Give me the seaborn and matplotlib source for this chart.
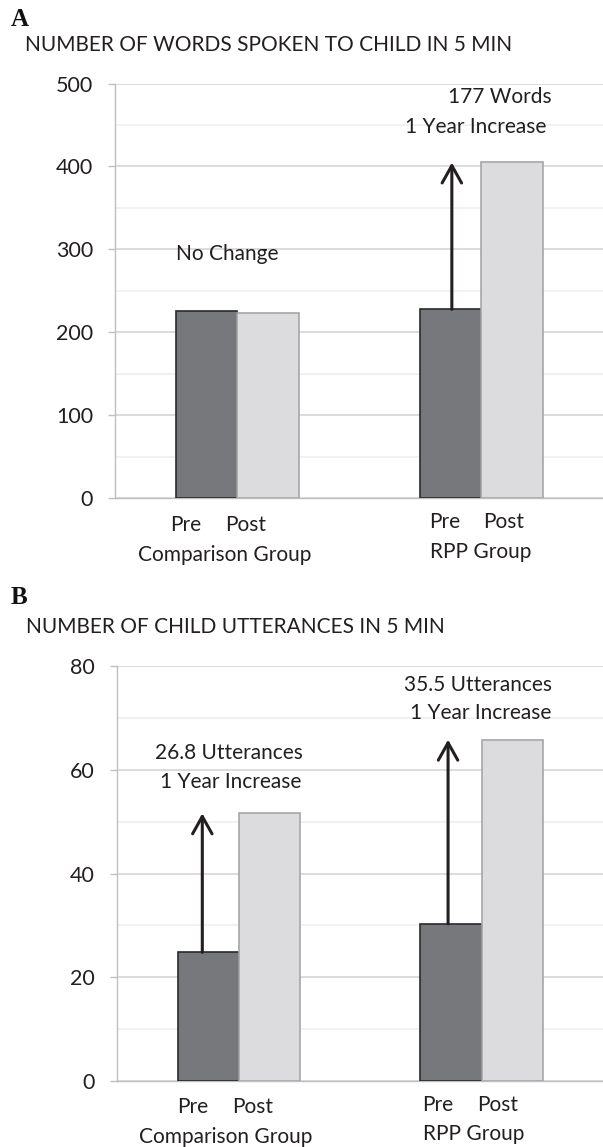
import numpy as np
import pandas as pd
import matplotlib
matplotlib.use('Agg')
import matplotlib.pyplot as plt
import seaborn as sns
from matplotlib.ticker import MultipleLocator

# ---- data ----
groups = ['Comparison Group', 'RPP Group']
phases = ['Pre', 'Post']
words_pre = [225.7, 227.7]
words_post = [223.6, 404.8]
utt_pre = [24.8, 30.3]
utt_post = [51.6, 65.8]
words_ticks = [0, 100, 200, 300, 400, 500]
utt_ticks = [0, 20, 40, 60, 80]

sns.set_theme(style='white')
plt.rcParams['font.family'] = ['Lato', 'DejaVu Sans']

W, H = 603, 1147
fig = plt.figure(figsize=(W / 100, H / 100), dpi=100)
TXT = '#231f20'
PRE_FILL, PRE_EDGE = '#77787c', '#2a2a2a'
POST_FILL, POST_EDGE = '#dcdcde', '#a6a6a6'
FS = 15


def px_axes(l, t, r, b):
    return fig.add_axes([l / W, 1 - b / H, (r - l) / W, (b - t) / H])


def ftext(x, y, s, ha='center', **kw):
    kw.setdefault('fontsize', FS)
    kw.setdefault('color', TXT)
    fig.text(x / W, 1 - y / H, s, ha=ha, va='center', **kw)


def panel(ax, pre, post, ticks, minor, arrow_groups, arrow_off):
    df = pd.DataFrame({
        'group': groups * 2,
        'phase': ['Pre'] * len(groups) + ['Post'] * len(groups),
        'value': list(pre) + list(post),
    })
    sns.barplot(data=df, x='group', y='value', hue='phase', hue_order=phases,
                palette={'Pre': PRE_FILL, 'Post': POST_FILL}, width=0.504,
                saturation=1, legend=False, ax=ax, zorder=3)
    for cont, ec in zip(ax.containers, [PRE_EDGE, POST_EDGE]):
        for p in cont:
            p.set_edgecolor(ec)
            p.set_linewidth(1.2)
    ax.set_xlim(-0.5, 1.5)
    ax.set_ylim(ticks[0], ticks[-1])
    ax.set_yticks(ticks)
    ax.yaxis.set_minor_locator(MultipleLocator(minor))
    ax.grid(axis='y', which='major', color='#d9d9d9', lw=1.3, zorder=0)
    ax.grid(axis='y', which='minor', color='#f0f0f0', lw=1.3, zorder=0)
    ax.set_axisbelow(True)
    for s in ['top', 'right']:
        ax.spines[s].set_visible(False)
    for s in ['left', 'bottom']:
        ax.spines[s].set_color('#bfbfbf')
        ax.spines[s].set_linewidth(1.0)
    ax.tick_params(axis='y', which='major', left=True, length=5, width=1,
                   color='#bfbfbf', pad=11, labelsize=FS + 0.5, labelcolor=TXT)
    ax.tick_params(axis='y', which='minor', left=False)
    ax.tick_params(axis='x', bottom=False, labelbottom=False)
    ax.set_xlabel('')
    ax.set_ylabel('')
    for i in arrow_groups:
        x = i - 0.126 + arrow_off[i]
        ax.annotate('', xy=(x, post[i]), xytext=(x, pre[i]),
                    arrowprops=dict(arrowstyle='->,head_length=0.5,head_width=0.28',
                                    color=TXT, lw=2.2, mutation_scale=25,
                                    shrinkA=0, shrinkB=0), zorder=5)


# ---- Panel A ----
axA = px_axes(115.4, 83.5, 603, 498.3)
panel(axA, words_pre, words_post, words_ticks, 50, [1], [0.0, 0.006])

ftext(11, 20, 'A', ha='left', family=['Liberation Serif', 'DejaVu Serif'],
      fontweight='bold', fontsize=18, color='#111111')
ftext(25, 45, 'NUMBER OF WORDS SPOKEN TO CHILD IN 5 MIN', ha='left')
ftext(227, 254, 'No Change')
ftext(500, 96.7, '177 Words')
ftext(476, 126.7, '1 Year Increase')
ftext(186, 525, 'Pre')
ftext(246, 525, 'Post')
ftext(224.6, 555, 'Comparison Group')
ftext(444.5, 521.7, 'Pre')
ftext(504, 521.7, 'Post')
ftext(480.5, 551.7, 'RPP Group')

# ---- Panel B ----
axB = px_axes(117.3, 666, 603, 1081)
panel(axB, utt_pre, utt_post, utt_ticks, 10, [0, 1], [-0.024, -0.012])

ftext(11, 597, 'B', ha='left', family=['Liberation Serif', 'DejaVu Serif'],
      fontweight='bold', fontsize=18, color='#111111')
ftext(26, 626.7, 'NUMBER OF CHILD UTTERANCES IN 5 MIN', ha='left')
ftext(229, 753.3, '26.8 Utterances')
ftext(231, 782.3, '1 Year Increase')
ftext(478, 685, '35.5 Utterances')
ftext(481, 713.3, '1 Year Increase')
ftext(193, 1107, 'Pre')
ftext(253, 1107, 'Post')
ftext(226, 1136.7, 'Comparison Group')
ftext(438, 1105, 'Pre')
ftext(497.6, 1105, 'Post')
ftext(474, 1134, 'RPP Group')

fig.savefig('out.png', dpi=100)
